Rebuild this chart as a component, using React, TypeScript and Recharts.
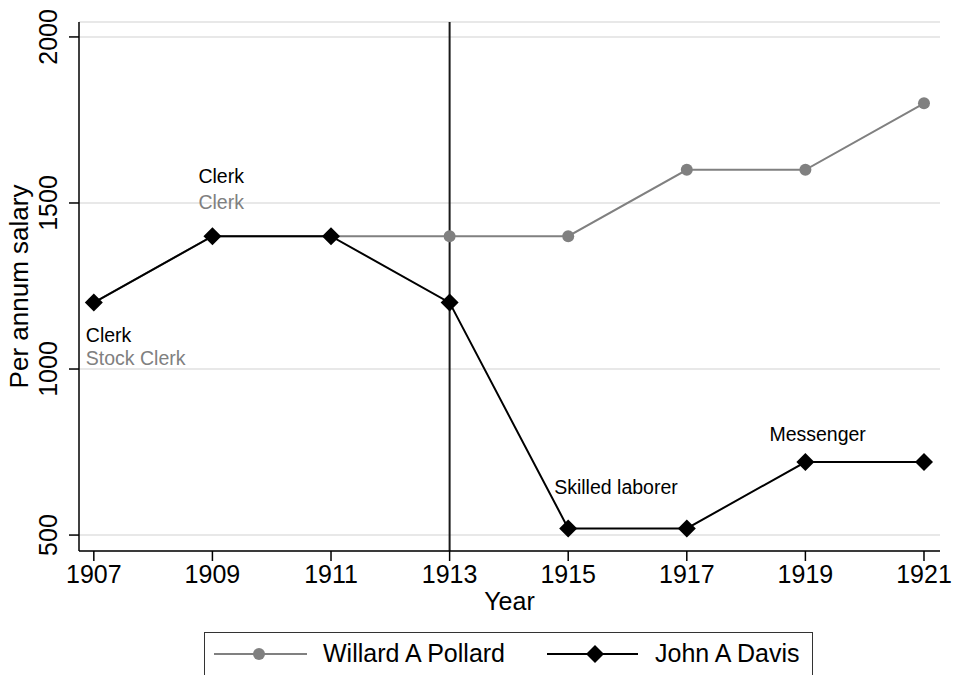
import React from "react";
import {
  CartesianGrid,
  Label,
  Line,
  LineChart,
  ReferenceDot,
  ReferenceLine,
  XAxis,
  YAxis,
} from "recharts";

const years = [1907, 1909, 1911, 1913, 1915, 1917, 1919, 1921];
const pollardSalary = [1200, 1400, 1400, 1400, 1400, 1600, 1600, 1800];
const davisSalary = [1200, 1400, 1400, 1200, 520, 520, 720, 720];

const xTicks = [1907, 1909, 1911, 1913, 1915, 1917, 1919, 1921];
const yTicks = [500, 1000, 1500, 2000];
const markerYear = 1913;

// job titles, anchored on the data point they describe
const noteYears = [1907, 1907, 1909, 1909, 1915, 1919];
const noteSalary = [1200, 1200, 1400, 1400, 520, 720];
const noteText = ["Clerk", "Stock Clerk", "Clerk", "Clerk", "Skilled laborer", "Messenger"];
const notePerson = ["davis", "pollard", "davis", "pollard", "davis", "davis"];

const FONT = "'Liberation Sans', Arial, Helvetica, sans-serif";
const GRAY = "#808080";
const BLACK = "#000000";

// pixel offsets of each note from its anchor point
const noteOffset = [
  [-8, 39],
  [-8, 62],
  [-14, -53],
  [-14, -27],
  [-14, -34],
  [-36, -21],
];

const data = years.map((y, i) => ({
  year: y,
  pollard: pollardSalary[i],
  davis: davisSalary[i],
}));

function GrayDot(props: any) {
  const { cx, cy, index } = props;
  if (cx == null || cy == null) return null;
  return <circle key={`p${index}`} cx={cx} cy={cy} r={6} fill={GRAY} stroke="none" />;
}

function Diamond(props: any) {
  const { cx, cy, index } = props;
  if (cx == null || cy == null) return null;
  const s = 9;
  return (
    <polygon
      key={`d${index}`}
      points={`${cx},${cy - s} ${cx + s},${cy} ${cx},${cy + s} ${cx - s},${cy}`}
      fill={BLACK}
    />
  );
}

function YTick(props: any) {
  const { x, y, payload } = props;
  const bx = x - 10;
  return (
    <text
      x={bx}
      y={y}
      transform={`rotate(-90 ${bx} ${y})`}
      textAnchor="middle"
      fontSize={25}
      fontFamily={FONT}
      fill={BLACK}
    >
      {payload.value}
    </text>
  );
}

function Legend() {
  return (
    <svg
      width={953}
      height={675}
      style={{ position: "absolute", left: 0, top: 0, pointerEvents: "none" }}
    >
      <rect x={204.5} y={632.5} width={608} height={60} fill="white" stroke="#333" strokeWidth={1} />
      <line x1={214} y1={654} x2={307} y2={654} stroke={GRAY} strokeWidth={2} />
      <circle cx={259} cy={654} r={6} fill={GRAY} />
      <text x={323} y={662} fontSize={25} fontFamily={FONT} fill={BLACK}>
        Willard A Pollard
      </text>
      <line x1={547} y1={654} x2={638} y2={654} stroke={BLACK} strokeWidth={2} />
      <polygon points="595,645 604,654 595,663 586,654" fill={BLACK} />
      <text x={655} y={662} fontSize={25} fontFamily={FONT} fill={BLACK}>
        John A Davis
      </text>
    </svg>
  );
}

export default function App() {
  return (
    <div
      style={{
        position: "absolute",
        left: 0,
        top: 0,
        width: 953,
        height: 675,
        overflow: "hidden",
        background: "white",
      }}
    >
      <LineChart
        width={953}
        height={675}
        data={data}
        margin={{ top: 22, right: 13, left: 0, bottom: 0 }}
      >
        <CartesianGrid vertical={false} stroke="#e8e8e8" strokeWidth={2} />
        <XAxis
          dataKey="year"
          type="number"
          domain={[1906.75, 1921.27]}
          ticks={xTicks}
          allowDataOverflow
          height={124}
          tickSize={10}
          tickMargin={4}
          stroke={BLACK}
          strokeWidth={1.5}
          tick={{ fill: BLACK, fontSize: 25, fontFamily: FONT }}
        >
          <Label
            content={(p: any) => {
              const vb = p.viewBox || {};
              return (
                <text
                  x={vb.x + vb.width / 2}
                  y={610}
                  textAnchor="middle"
                  fontSize={25}
                  fontFamily={FONT}
                  fill={BLACK}
                >
                  Year
                </text>
              );
            }}
          />
        </XAxis>
        <YAxis
          type="number"
          domain={[452, 2045]}
          ticks={yTicks}
          allowDataOverflow
          width={79}
          tickSize={10}
          stroke={BLACK}
          strokeWidth={1.5}
          tick={<YTick />}
        >
          <Label
            content={(p: any) => {
              const vb = p.viewBox || {};
              const cy = vb.y + vb.height / 2;
              return (
                <text
                  x={28}
                  y={cy}
                  transform={`rotate(-90 28 ${cy})`}
                  textAnchor="middle"
                  fontSize={26}
                  fontFamily={FONT}
                  fill={BLACK}
                >
                  Per annum salary
                </text>
              );
            }}
          />
        </YAxis>
        <ReferenceLine x={markerYear} stroke="#1a1a1a" strokeWidth={2} />
        <Line
          dataKey="pollard"
          type="linear"
          stroke={GRAY}
          strokeWidth={2}
          dot={<GrayDot />}
          activeDot={false}
          isAnimationActive={false}
        />
        <Line
          dataKey="davis"
          type="linear"
          stroke={BLACK}
          strokeWidth={2}
          dot={<Diamond />}
          activeDot={false}
          isAnimationActive={false}
        />
        {noteText.map((t, i) => (
          <ReferenceDot
            key={`note${i}`}
            x={noteYears[i]}
            y={noteSalary[i]}
            r={0}
            fill="none"
            stroke="none"
            ifOverflow="visible"
            label={(p: any) => {
              const vb = p.viewBox || {};
              return (
                <text
                  x={vb.x + noteOffset[i][0]}
                  y={vb.y + noteOffset[i][1]}
                  fontSize={19.5}
                  fontFamily={FONT}
                  fill={notePerson[i] === "pollard" ? GRAY : BLACK}
                >
                  {t}
                </text>
              );
            }}
          />
        ))}
      </LineChart>
      <Legend />
    </div>
  );
}
